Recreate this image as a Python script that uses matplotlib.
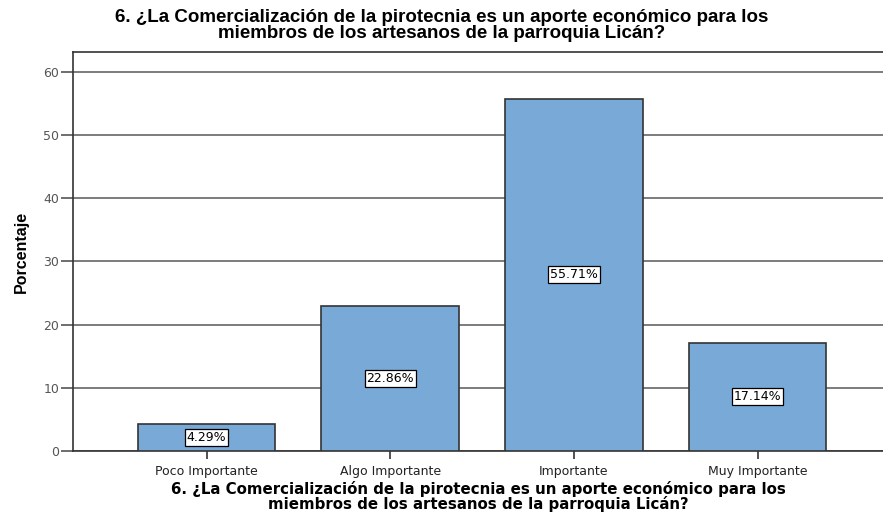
import matplotlib.pyplot as plt
import numpy as np

# data
categorias = ['Poco Importante', 'Algo Importante', 'Importante', 'Muy Importante']
porcentajes = [4.29, 22.86, 55.71, 17.14]
etiquetas = ['4.29%', '22.86%', '55.71%', '17.14%']
titulo = '6. ¿La Comercialización de la pirotecnia es un aporte económico para los\nmiembros de los artesanos de la parroquia Licán?'

W, H = 883, 515
fig = plt.figure(figsize=(W / 100, H / 100), dpi=100)
# axes box in pixels: left 73, top 52, bottom 451, right past the edge
ax = fig.add_axes([73 / W, 1 - 451 / H, 1 - 73 / W, (451 - 52) / H])

x = np.arange(len(categorias))
ax.bar(x, porcentajes, width=0.75, color='#79a9d7', edgecolor='#333333',
       linewidth=1.2, zorder=3)

# value boxes in the middle of each bar
for xi, v, lab in zip(x, porcentajes, etiquetas):
    ax.text(xi, v / 2, lab, ha='center', va='center', fontsize=9,
            family='DejaVu Sans', zorder=4,
            bbox=dict(boxstyle='square,pad=0.15', fc='white', ec='black', lw=0.9))

ax.set_xlim(-0.727, 3.683)
ax.set_ylim(0, 63.1)
ax.set_yticks(range(0, 61, 10))
ax.yaxis.grid(True, color='#666666', linewidth=1.2, zorder=0)
ax.set_axisbelow(True)

ax.set_xticks(x)
ax.set_xticklabels(categorias, fontsize=9, family='DejaVu Sans', color='#222222')
ax.tick_params(axis='x', length=6, width=1.2, color='#333333', pad=4)
ax.tick_params(axis='y', length=9, width=1.2, color='#555555', labelsize=9,
               labelcolor='#555555', pad=1)
for t in ax.get_yticklabels():
    t.set_family('DejaVu Sans')

ax.spines['right'].set_visible(False)
for s in ['left', 'bottom', 'top']:
    ax.spines[s].set_color('#333333')
    ax.spines[s].set_linewidth(1.2)

ax.set_ylabel('Porcentaje', fontsize=11.5, fontweight='bold',
              family=['Liberation Sans Narrow', 'Liberation Sans'], labelpad=10)
ax.set_xlabel(titulo, fontsize=10.8, fontweight='bold', family='DejaVu Sans',
              labelpad=2, linespacing=0.92)

fig.text(0.5, 0.982, titulo, ha='center', va='top', fontsize=13.5,
         fontweight='bold', family='Liberation Sans', linespacing=0.9)

fig.savefig('out.png', dpi=100)
